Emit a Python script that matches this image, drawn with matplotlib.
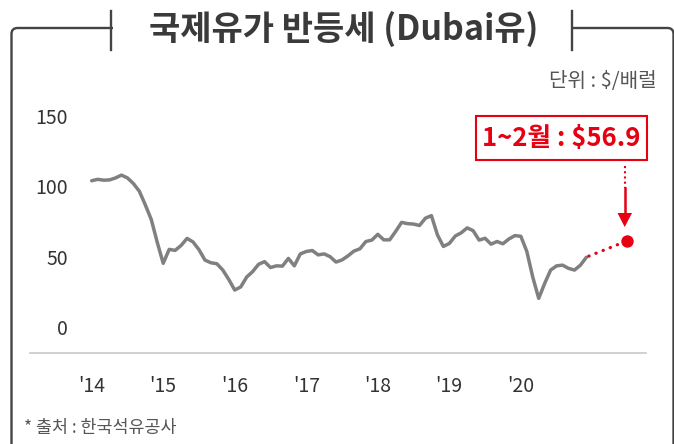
import matplotlib
matplotlib.use("Agg")
import matplotlib.pyplot as plt
from matplotlib.patches import FancyBboxPatch, Rectangle, Polygon
import numpy as np

plt.rcParams["font.family"] = ["Noto Sans CJK KR", "DejaVu Sans"]

# ── Data: monthly Dubai crude price ($/bbl), Jan 2014 – Dec 2020 ──────────────
PRICE_2014 = [104.0, 105.0, 104.4, 104.6, 106.0, 108.0, 106.0, 102.0, 96.5, 86.8, 76.4, 60.2]
PRICE_2015 = [45.3, 55.2, 54.5, 58.0, 63.0, 60.5, 55.0, 47.6, 45.7, 45.0, 40.5, 33.8]
PRICE_2016 = [26.3, 28.5, 35.5, 39.4, 44.6, 46.5, 42.3, 43.5, 43.3, 48.8, 43.5, 52.0]
PRICE_2017 = [53.7, 54.4, 51.3, 52.0, 50.0, 46.2, 47.7, 50.6, 54.0, 55.6, 60.8, 61.8]
PRICE_2018 = [65.9, 62.0, 62.0, 68.0, 74.4, 73.5, 73.2, 72.2, 77.4, 79.2, 65.6, 57.3]
PRICE_2019 = [59.4, 64.7, 67.0, 70.5, 68.5, 61.8, 63.1, 58.9, 60.8, 59.2, 62.6, 65.0]
PRICE_2020 = [64.5, 53.8, 35.5, 20.4, 31.0, 40.5, 43.5, 44.0, 41.7, 40.5, 44.0, 49.6]
PRICES = PRICE_2014 + PRICE_2015 + PRICE_2016 + PRICE_2017 + PRICE_2018 + PRICE_2019 + PRICE_2020

# 2021 Jan–Feb marker (as placed in the graphic)
MARK_INDEX = 89.8
MARK_VALUE = 61.2

YEAR_LABELS = ["'14", "'15", "'16", "'17", "'18", "'19", "'20"]
Y_TICKS = [0, 50, 100, 150]

TITLE = "국제유가 반등세 (Dubai유)"
UNIT = "단위 : $/배럴"
SOURCE = "* 출처 : 한국석유공사"
CALLOUT = "1~2월 : $56.9"

RED = "#e60012"
GRAY = "#808080"
FRAME = "#444444"

W, H = 674, 444
fig = plt.figure(figsize=(W / 100, H / 100), dpi=100)

# ── Main chart ────────────────────────────────────────────────────────────────
ax = fig.add_axes([30 / W, (H - 352.5) / H, 616 / W, 252.5 / H])
ax.set_facecolor("none")
months = np.arange(len(PRICES))
ax.plot(months, PRICES, color=GRAY, lw=2.5,
        solid_joinstyle="round", solid_capstyle="round", zorder=3)
ax.plot([months[-1] + 0.4, MARK_INDEX], [PRICES[-1] + 0.8, MARK_VALUE],
        color=RED, lw=2.3, ls=(0, (0.1, 2.3)), dash_capstyle="round", zorder=3)
ax.scatter([MARK_INDEX], [MARK_VALUE], s=80, color=RED, zorder=4, linewidths=0)

ax.set_xlim(-10.35, 93.0)
ax.set_ylim(-18.1, 161.4)
for s in ("top", "left", "right"):
    ax.spines[s].set_visible(False)
ax.spines["bottom"].set_color("#c8c8c8")
ax.spines["bottom"].set_linewidth(1.2)

ax.set_yticks(Y_TICKS)
ax.set_yticklabels([str(v) for v in Y_TICKS])
ax.tick_params(axis="y", length=0, pad=-27.4, labelsize=14, labelcolor="#333333")
ax.set_xticks(np.arange(0, 12 * len(YEAR_LABELS), 12))
ax.set_xticklabels(YEAR_LABELS)
ax.tick_params(axis="x", length=0, pad=17, labelsize=14, labelcolor="#333333")

# ── Frame, title and notes (pixel overlay) ───────────────────────────────────
ov = fig.add_axes([0, 0, 1, 1])
ov.set_xlim(0, W)
ov.set_ylim(H, 0)
ov.axis("off")

ov.add_patch(FancyBboxPatch((11.5, 28), 662, 480,
                            boxstyle="round,pad=0,rounding_size=6",
                            fc="none", ec=FRAME, lw=1.7))
ov.add_patch(Rectangle((112.5, 20), 458, 16, fc="white", ec="none"))
ov.plot([111, 111], [11, 50], color=FRAME, lw=1.7)
ov.plot([572, 572], [11, 50], color=FRAME, lw=1.7)
ov.text(343.5, 29, TITLE, ha="center", va="center",
        fontsize=24.5, fontweight="bold", color="#3a3a3a")

ov.text(657, 82, UNIT, ha="right", va="center", fontsize=14.5, color="#555555")
ov.text(24, 428, SOURCE, ha="left", va="center", fontsize=12.5, color="#555555")

# callout box + arrow
ov.add_patch(Rectangle((476, 116), 171, 44, fc="white", ec=RED, lw=1.5))
ov.text(561.5, 138, CALLOUT, ha="center", va="center",
        fontsize=18.5, fontweight="bold", color=RED)
ov.plot([624.7, 624.7], [166, 188], color=RED, lw=1.5, ls=(0, (1, 1.5)))
ov.plot([624.7, 624.7], [188, 214], color=RED, lw=1.8)
ov.add_patch(Polygon([(617.5, 213), (632, 213), (624.7, 227)],
                     closed=True, fc=RED, ec="none"))

fig.savefig("out.png", dpi=100)
